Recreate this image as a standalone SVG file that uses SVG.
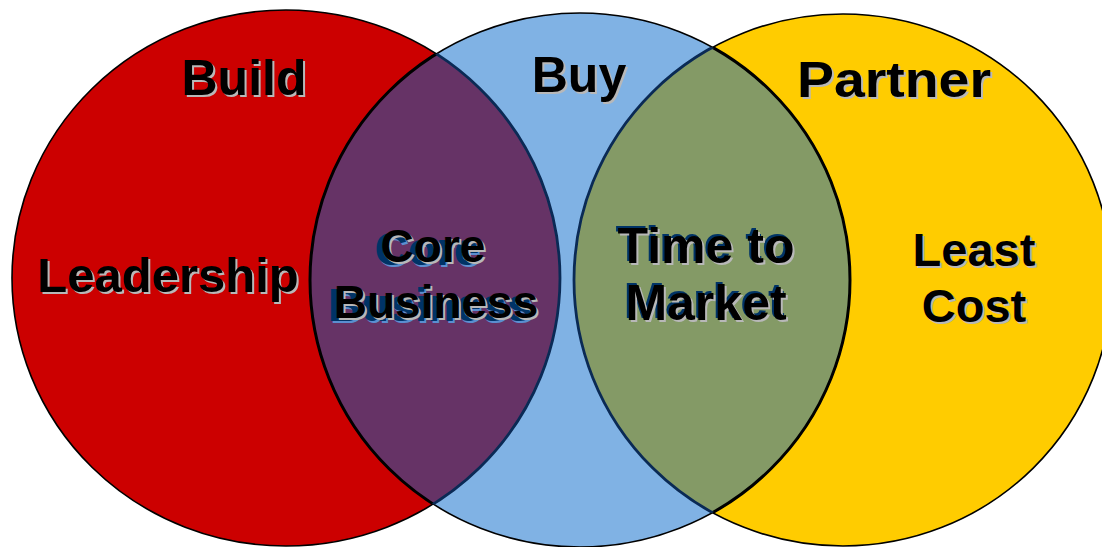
<svg xmlns="http://www.w3.org/2000/svg" width="1102" height="547" viewBox="0 0 1102 547">
  <defs>
    <style>
      .lbl { font-family: "Liberation Sans", Arial, sans-serif; font-weight: bold; text-anchor: middle; }
      .shadow { fill: #b8b8b8; }
      .ink { fill: #000000; }
      .ghost { fill: #003366; }
      .ghost2 { fill: #5b8fd0; }
      .outline { fill: none; stroke: #000000; stroke-width: 1.6; }
      .inner { fill: none; stroke: #0a2a55; stroke-width: 1.4; }
    </style>
    <clipPath id="clipRed"><ellipse cx="286" cy="278" rx="274" ry="268"/></clipPath>
    <clipPath id="clipBlue"><ellipse cx="580" cy="280" rx="270" ry="267"/></clipPath>
    <clipPath id="clipYellow"><ellipse cx="843" cy="280" rx="269" ry="266"/></clipPath>
  </defs>

  <rect width="1102" height="547" fill="#ffffff"/>

  <!-- Build set -->
  <g id="build">
    <ellipse cx="286" cy="278" rx="274" ry="268" class="outline" style="fill:#cc0000"/>
  </g>

  <!-- Partner set -->
  <g id="partner">
    <ellipse cx="843" cy="280" rx="269" ry="266" class="outline" style="fill:#ffcc00"/>
  </g>

  <!-- Buy set -->
  <g id="buy">
    <ellipse cx="580" cy="280" rx="270" ry="267" class="outline" style="fill:#80b2e4"/>
  </g>

  <!-- Build ∩ Buy -->
  <g id="core-business">
    <ellipse cx="580" cy="280" rx="270" ry="267" fill="#663366" clip-path="url(#clipRed)"/>
    <ellipse cx="580" cy="280" rx="270" ry="267" class="outline" clip-path="url(#clipRed)" style="stroke-width:3"/>
    <ellipse cx="286" cy="278" rx="274" ry="268" class="inner" clip-path="url(#clipBlue)" style="stroke-width:2.8"/>
  </g>

  <!-- Buy ∩ Partner -->
  <g id="time-to-market">
    <ellipse cx="843" cy="280" rx="269" ry="266" fill="#849a66" clip-path="url(#clipBlue)"/>
    <ellipse cx="580" cy="280" rx="270" ry="267" class="outline" clip-path="url(#clipYellow)" style="stroke-width:3"/>
    <ellipse cx="843" cy="280" rx="269" ry="266" class="inner" clip-path="url(#clipBlue)" style="stroke-width:2.8"/>
  </g>

  <!-- Labels -->
  <g id="label-build" class="lbl" font-size="50">
    <text x="246" y="97" class="shadow">Build</text>
    <text x="244" y="95" class="ink">Build</text>
  </g>
  <g id="label-buy" class="lbl" font-size="50">
    <text x="581" y="94" class="shadow">Buy</text>
    <text x="579" y="92" class="ink">Buy</text>
  </g>
  <g id="label-partner" class="lbl" font-size="50">
    <text x="896" y="99" class="shadow" textLength="194" lengthAdjust="spacingAndGlyphs">Partner</text>
    <text x="894" y="97" class="ink" textLength="194" lengthAdjust="spacingAndGlyphs">Partner</text>
  </g>
  <g id="label-leadership" class="lbl" font-size="49">
    <text x="170" y="294" class="shadow">Leadership</text>
    <text x="168" y="292" class="ink">Leadership</text>
  </g>
  <g id="label-core" class="lbl" font-size="46">
    <text x="429" y="267" class="ghost2">Core</text>
    <text x="427" y="265" class="ghost">Core</text>
    <text x="435" y="264" class="shadow">Core</text>
    <text x="433" y="262" class="ink">Core</text>
    <text x="432" y="323" class="ghost2">Business</text>
    <text x="430" y="321" class="ghost">Business</text>
    <text x="438" y="320" class="shadow">Business</text>
    <text x="436" y="318" class="ink">Business</text>
  </g>
  <g id="label-time" class="lbl" font-size="50">
    <text x="704" y="261" class="ghost">Time to</text>
    <text x="708" y="265" class="shadow">Time to</text>
    <text x="706" y="263" class="ink">Time to</text>
    <text x="704" y="318" class="ghost">Market</text>
    <text x="708" y="322" class="shadow">Market</text>
    <text x="706" y="320" class="ink">Market</text>
  </g>
  <g id="label-cost" class="lbl" font-size="47">
    <text x="976" y="268" class="shadow">Least</text>
    <text x="974" y="266" class="ink">Least</text>
    <text x="976" y="324" class="shadow">Cost</text>
    <text x="974" y="322" class="ink">Cost</text>
  </g>
</svg>
